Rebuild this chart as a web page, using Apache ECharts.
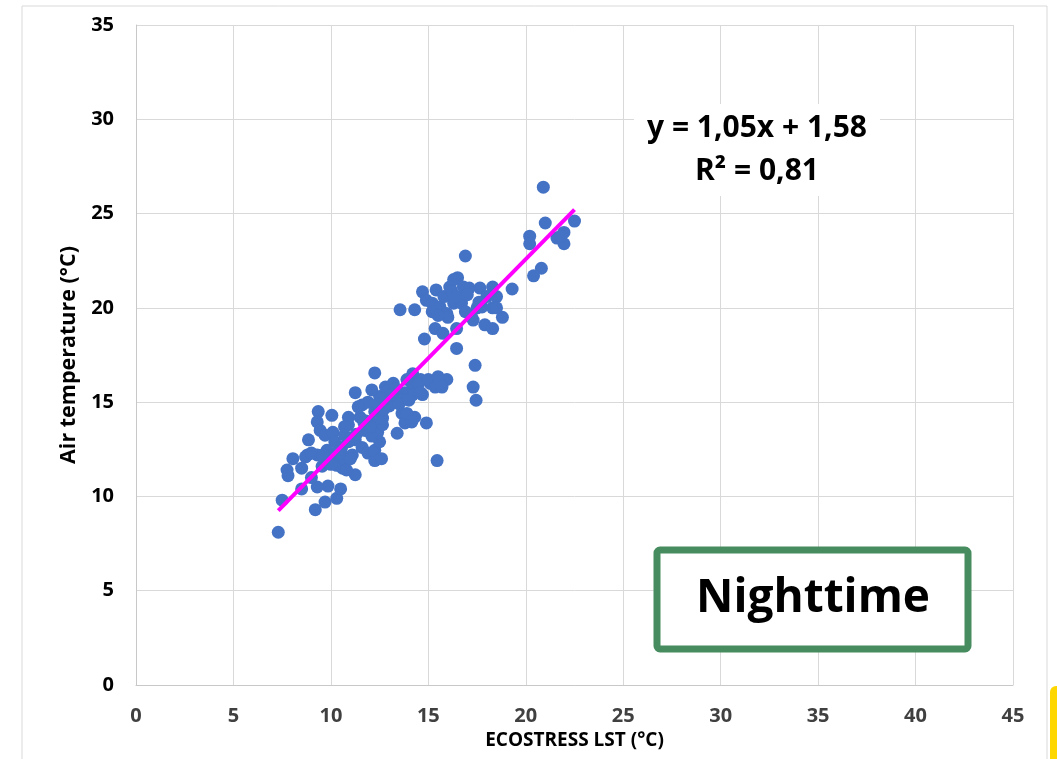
<!DOCTYPE html>
<html>
<head>
<meta charset="utf-8">
<script src="https://cdn.jsdelivr.net/npm/echarts@6/dist/echarts.min.js"></script>
<style>
html,body{margin:0;padding:0;background:#fff;}
#chart{width:1057px;height:759px;}
</style>
</head>
<body>
<div id="chart"></div>
<script>
// ECOSTRESS LST (°C)
var lstValues = [
  20.9, 21.0, 22.5, 20.2, 20.2, 21.6, 21.96, 21.96, 21.8, 20.8, 20.4,
  16.9, 16.5, 16.3, 19.3, 18.5, 18.3, 17.65, 17.1, 16.8, 16.1, 15.4, 14.7, 14.9, 14.3, 13.55,
  15.2, 15.6, 15.2, 15.95, 16.3, 16.7, 16.9, 17.5, 17.75, 18.3, 18.8, 17.3, 17.9, 18.3,
  15.35, 15.75, 16.45, 14.8, 16.45, 17.4, 17.3, 17.45, 15.95, 15.6, 15.1, 14.6, 14.2, 14.2, 14.7, 13.8,
  7.3, 7.5, 9.2, 9.7, 10.3, 10.5, 9.85, 9.3, 8.5, 7.75, 7.8, 8.05, 8.5, 8.8, 8.85, 9.3, 9.0, 9.55,
  9.35, 9.3, 9.45, 10.05, 9.7, 10.1, 10.2, 9.8, 10.2, 9.85, 10.3, 10.6, 10.7, 10.55, 10.9, 10.7,
  11.25, 11.25, 11.25, 11.6, 11.5, 11.75, 11.6, 11.9, 12.25, 12.25, 12.6, 12.5, 12.1, 12.4, 12.65,
  12.1, 12.65, 12.25, 11.9, 12.5, 12.25, 12.1, 12.8, 13.2, 13.4, 13.65, 13.1, 13.4, 13.65, 13.8,
  14.15, 13.9, 14.5, 14.2, 14.6, 15.0, 15.35, 15.5, 15.7, 14.9, 15.45, 11.4, 10.9, 10.7, 11.1,
  10.5, 10.8, 8.7, 9.0,
  15.8, 16.2, 16.6, 17.0, 16.0, 15.5, 17.2, 18.0, 18.5, 16.4, 17.6,
  12.9, 13.0, 12.7, 13.3, 12.4, 11.8, 12.0, 13.5, 14.0, 14.3, 13.9, 12.8, 13.1,
  10.4, 10.9, 11.0, 10.0, 9.6, 11.3, 11.7
];
// Air temperature (°C)
var airValues = [
  26.4, 24.5, 24.6, 23.8, 23.4, 23.7, 24.0, 23.4, 23.8, 22.1, 21.7,
  22.75, 21.6, 21.5, 21.0, 20.6, 21.1, 21.05, 21.05, 21.1, 21.1, 20.95, 20.85, 20.4, 19.9, 19.9,
  20.25, 20.05, 19.8, 19.7, 20.25, 20.25, 19.8, 20.0, 20.05, 20.0, 19.5, 19.35, 19.1, 18.9,
  18.9, 18.65, 18.9, 18.35, 17.85, 16.95, 15.8, 15.1, 16.2, 16.0, 16.0, 16.2, 16.5, 15.8, 15.4, 15.5,
  8.1, 9.8, 9.3, 9.7, 9.9, 10.4, 10.55, 10.5, 10.4, 11.4, 11.1, 12.0, 11.5, 12.2, 13.0, 12.2, 11.0, 11.6,
  14.5, 13.95, 13.5, 14.3, 13.25, 13.4, 12.9, 12.45, 12.2, 11.8, 11.65, 11.5, 12.0, 12.6, 13.8, 13.25,
  13.0, 11.15, 15.5, 14.85, 14.2, 13.5, 12.6, 12.3, 11.9, 12.45, 12.0, 12.9, 13.2, 13.4, 13.8,
  13.9, 14.15, 14.5, 15.0, 15.3, 16.55, 15.65, 15.8, 16.0, 15.3, 15.1, 15.0, 13.35, 14.4, 13.9,
  13.95, 16.2, 16.0, 15.4, 15.5, 16.2, 15.8, 16.35, 15.8, 13.9, 11.9, 14.75, 14.2, 13.7, 12.2,
  12.3, 11.4, 12.1, 12.3,
  20.6, 20.9, 20.5, 20.7, 19.5, 19.6, 19.6, 20.6, 20.0, 20.6, 20.3,
  15.6, 14.8, 14.6, 15.7, 14.9, 14.0, 13.7, 14.9, 15.1, 14.2, 14.4, 15.2, 15.4,
  12.4, 12.9, 12.0, 11.7, 12.2, 13.3, 13.9
];
// Linear trend (as reported on the chart)
var trendSlope = 1.05;
var trendIntercept = 1.58;
var rSquared = 0.81;
var xTickValues = [0, 5, 10, 15, 20, 25, 30, 35, 40, 45];
var yTickValues = [0, 5, 10, 15, 20, 25, 30, 35];

var points = lstValues.map(function (v, i) { return [v, airValues[i]]; });
var xMin = Math.min.apply(null, lstValues);
var xMax = Math.max.apply(null, lstValues);
var trendData = [[xMin, trendSlope * xMin + trendIntercept], [xMax, trendSlope * xMax + trendIntercept]];

function fmt(n) { return n.toFixed(2).replace('.', ','); }
var eqLine1 = 'y = ' + fmt(trendSlope) + 'x + ' + fmt(trendIntercept);
var eqLine2 = 'R² = ' + fmt(rSquared);

var FONT = '"Open Sans", "Noto Sans", sans-serif';
var chart = echarts.init(document.getElementById('chart'), null, {renderer: 'canvas'});
chart.setOption({
  backgroundColor: '#ffffff',
  animation: false,
  grid: {left: 136, top: 25, right: 44, bottom: 74, containLabel: false},
  xAxis: {
    type: 'value', min: 0, max: 45, interval: 5,
    name: 'ECOSTRESS LST (°C)', nameLocation: 'middle', nameGap: 46,
    nameTextStyle: {fontFamily: FONT, fontWeight: 'bold', fontSize: 19, color: '#000'},
    axisLine: {show: true, lineStyle: {color: '#c8c8c8', width: 1}},
    axisTick: {show: false},
    axisLabel: {fontFamily: FONT, fontWeight: 'bold', fontSize: 20, color: '#404040', margin: 21},
    splitLine: {show: true, lineStyle: {color: '#d9d9d9', width: 1}}
  },
  yAxis: {
    type: 'value', min: 0, max: 35, interval: 5,
    name: 'Air temperature (°C)', nameLocation: 'middle', nameGap: 53,
    nameTextStyle: {fontFamily: FONT, fontWeight: 'bold', fontSize: 21.5, color: '#000'},
    axisLine: {show: true, lineStyle: {color: '#c8c8c8', width: 1}},
    axisTick: {show: false},
    axisLabel: {fontFamily: FONT, fontWeight: 'bold', fontSize: 20, color: '#000', margin: 22},
    splitLine: {show: true, lineStyle: {color: '#d9d9d9', width: 1}}
  },
  series: [
    {
      type: 'scatter', data: points, symbol: 'circle', symbolSize: 13,
      itemStyle: {color: '#4472c4', opacity: 1}, z: 2
    },
    {
      type: 'line', data: trendData, symbol: 'none', showSymbol: false,
      lineStyle: {color: '#ff00ff', width: 4}, z: 3
    }
  ],
  graphic: [
    {type: 'rect', shape: {x: 22, y: 6, width: 1025, height: 800}, style: {fill: 'none', stroke: '#d9d9d9', lineWidth: 1}, z: -1, silent: true},
    {type: 'rect', shape: {x: 634, y: 104, width: 246, height: 92}, style: {fill: '#ffffff'}, z: 10},
    {type: 'text', style: {text: eqLine1, x: 757, y: 128, font: 'bold 30px ' + FONT, fill: '#000', align: 'center', verticalAlign: 'middle'}, z: 11},
    {type: 'text', style: {text: eqLine2, x: 757, y: 171, font: 'bold 30px ' + FONT, fill: '#000', align: 'center', verticalAlign: 'middle'}, z: 11},
    {type: 'rect', shape: {x: 657, y: 550, width: 311, height: 99, r: 3}, style: {fill: '#ffffff', stroke: '#468c5f', lineWidth: 7}, z: 10},
    {type: 'text', style: {text: 'Nighttime', x: 813, y: 599, font: 'bold 46px ' + FONT, fill: '#000', align: 'center', verticalAlign: 'middle'}, z: 11},
    {type: 'rect', shape: {x: 1050, y: 686, width: 10, height: 80, r: [6, 0, 0, 0]}, style: {fill: '#ffd700'}, z: 10}
  ]
});
</script>
</body>
</html>
